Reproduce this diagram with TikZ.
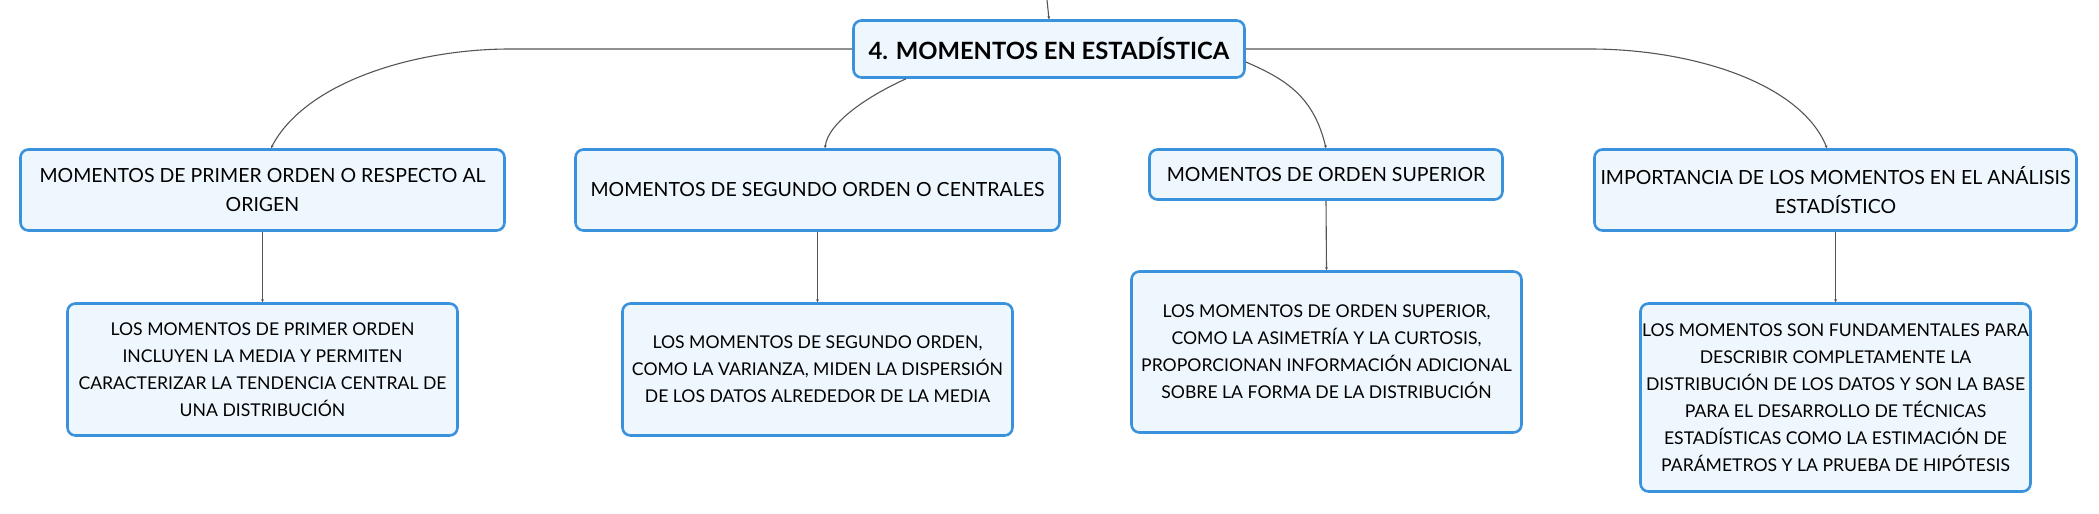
\documentclass[tikz,border=0pt]{standalone}
\usepackage{fontspec}
\setmainfont{Lato}
\usetikzlibrary{arrows.meta,calc}
\definecolor{boxborder}{RGB}{58,146,220}
\definecolor{boxfill}{RGB}{239,247,254}
\definecolor{linkgray}{RGB}{85,85,85}
\begin{document}
\begin{tikzpicture}[x=1pt,y=-1pt,
  box/.style={draw=boxborder,fill=boxfill,line width=2.6pt,rounded corners=8pt,
    align=center,inner sep=0pt,text=black},
  rootbox/.style={box,font=\fontsize{23.8}{28}\selectfont\bfseries},
  topicbox/.style={box,font=\fontsize{19.5}{29}\selectfont},
  leafbox/.style={box,font=\fontsize{17.6}{27}\selectfont},
  link/.style={draw=linkgray,line width=1.1pt,-{Stealth[length=3pt,width=3pt]}}]
\useasboundingbox (0,0) rectangle (2099,514);

\node[rootbox,minimum width=391pt,minimum height=57pt] (root) at (1049,49) {4. MOMENTOS EN ESTADÍSTICA};

\node[topicbox,minimum width=484pt,minimum height=81pt] (b1) at (262.5,190) {MOMENTOS DE PRIMER ORDEN O RESPECTO AL\\ORIGEN};
\node[topicbox,minimum width=484pt,minimum height=81pt] (b2) at (817.5,190) {MOMENTOS DE SEGUNDO ORDEN O CENTRALES};
\node[topicbox,minimum width=353pt,minimum height=50pt] (b3) at (1326,174.5) {MOMENTOS DE ORDEN SUPERIOR};
\node[topicbox,minimum width=482pt,minimum height=81pt] (b4) at (1835.5,190) {IMPORTANCIA DE LOS MOMENTOS EN EL ANÁLISIS\\ESTADÍSTICO};

\node[leafbox,minimum width=390pt,minimum height=132pt] (c1) at (262.5,369.5) {LOS MOMENTOS DE PRIMER ORDEN\\INCLUYEN LA MEDIA Y PERMITEN\\CARACTERIZAR LA TENDENCIA CENTRAL DE\\UNA DISTRIBUCIÓN};
\node[leafbox,minimum width=390pt,minimum height=132pt] (c2) at (817.5,369.5) {LOS MOMENTOS DE SEGUNDO ORDEN,\\COMO LA VARIANZA, MIDEN LA DISPERSIÓN\\DE LOS DATOS ALREDEDOR DE LA MEDIA};
\node[leafbox,minimum width=390pt,minimum height=161pt] (c3) at (1326.5,352) {LOS MOMENTOS DE ORDEN SUPERIOR,\\COMO LA ASIMETRÍA Y LA CURTOSIS,\\PROPORCIONAN INFORMACIÓN ADICIONAL\\SOBRE LA FORMA DE LA DISTRIBUCIÓN};
\node[leafbox,minimum width=390pt,minimum height=188pt] (c4) at (1835.5,397.5) {LOS MOMENTOS SON FUNDAMENTALES PARA\\DESCRIBIR COMPLETAMENTE LA\\DISTRIBUCIÓN DE LOS DATOS Y SON LA BASE\\PARA EL DESARROLLO DE TÉCNICAS\\ESTADÍSTICAS COMO LA ESTIMACIÓN DE\\PARÁMETROS Y LA PRUEBA DE HIPÓTESIS};

\coordinate (parent) at (1047,0);
\draw[link] (parent) -- (root.north);

\draw[link] (root.west) -- (510,49) .. controls (415,49) and (305,82) .. ([xshift=8.5pt]b1.north);
\draw[link] ([xshift=-143pt]root.south) .. controls (870,95) and (828,122) .. ([xshift=7.5pt]b2.north);
\draw[link] ([yshift=-13pt]root.east) .. controls (1288,80) and (1314,98) .. (b3.north);
\draw[link] (root.east) -- (1590,49) .. controls (1690,49) and (1800,82) .. ([xshift=-8.5pt]b4.north);

\draw[link] (b1.south) -- (c1.north);
\draw[link] (b2.south) -- (c2.north);
\draw[link] (b3.south) -- (c3.north);
\draw[link] (b4.south) -- (c4.north);
\end{tikzpicture}
\end{document}
